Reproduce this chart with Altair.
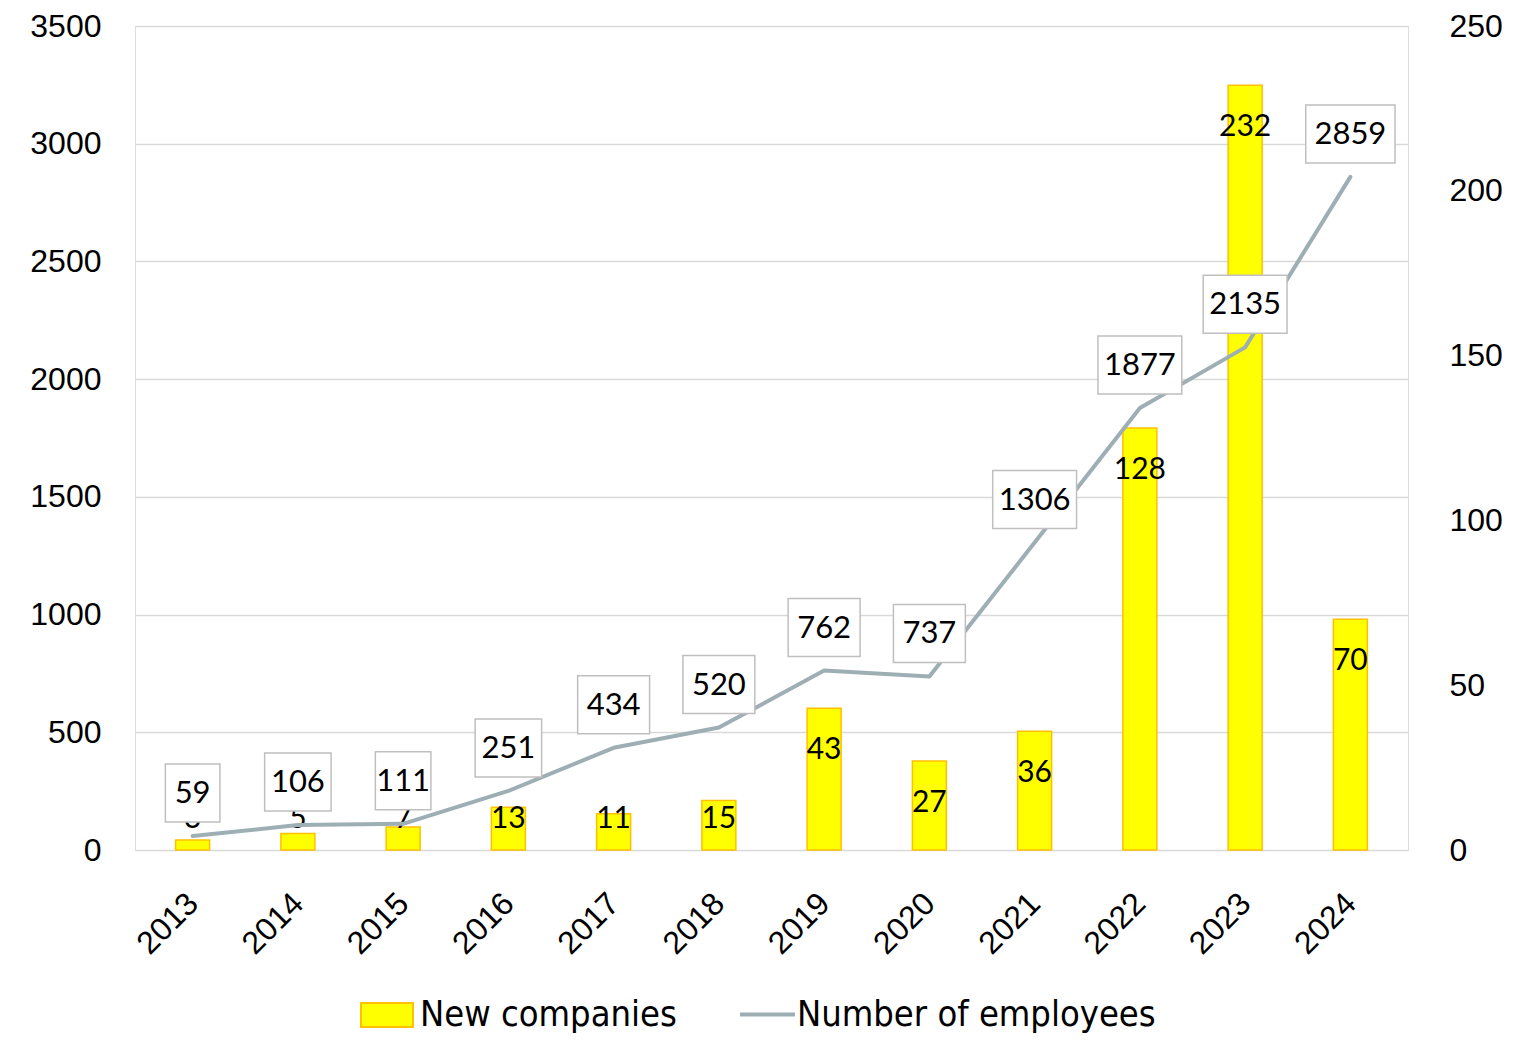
import altair as alt
import pandas as pd
import numpy as np

years = list(range(2013, 2025))
new_companies = [3, 5, 7, 13, 11, 15, 43, 27, 36, 128, 232, 70]
employees = [59, 106, 111, 251, 434, 520, 762, 737, 1306, 1877, 2135, 2859]

W, H = 1273, 824
FONT = "Lato"
px_per_year = W / 12
px_per_unit_r = H / 250


def box_px(s):
    return sum(12 if c == "1" else 17.5 for c in s) + 20


df = pd.DataFrame({"year": years, "new": new_companies, "emp": employees})
df["emp_txt"] = df["emp"].astype(str)
df["hw"] = df["emp_txt"].map(box_px) / 2 / px_per_year
df["bx1"] = df["year"] - df["hw"]
df["bx2"] = df["year"] + df["hw"]
df["blab"] = np.maximum(df["new"] - 42 / px_per_unit_r, 31 / px_per_unit_r)
df["s1"] = "New companies"
df["s2"] = "Number of employees"

xscale = alt.Scale(domain=[2012.5, 2024.5], nice=False, zero=False)
xaxis = alt.Axis(
    values=years, format="d", labelAngle=-45, grid=False, domain=False,
    ticks=False, labelPadding=48, labelFontSize=32, title=None,
    labelAlign="right", labelBaseline="middle",
)

yl_scale = alt.Scale(domain=[0, 3500], nice=False)
yr_scale = alt.Scale(domain=[0, 250], nice=False)
yl_axis = alt.Axis(
    orient="left", values=list(range(0, 3501, 500)), format="d", grid=True,
    gridColor="#d9d9d9", gridWidth=1.3, domain=False, ticks=False,
    labelPadding=34, labelFontSize=32, title=None,
)
yr_axis = alt.Axis(
    orient="right", values=list(range(0, 251, 50)), format="d", grid=False,
    domain=False, ticks=False, labelPadding=41, labelFontSize=32,
    title=None,
)


def X(field):
    return alt.X(field, scale=xscale, axis=xaxis)


base = alt.Chart(df)

bars = base.mark_bar(width=34, stroke="#FFC000", strokeWidth=1.5).encode(
    x=X("year:Q"),
    y=alt.Y("new:Q", scale=yr_scale, axis=yr_axis),
    fill=alt.Fill(
        "s1:N",
        scale=alt.Scale(domain=["New companies"], range=["#FFFF00"]),
        legend=alt.Legend(
            orient="none", legendX=225, legendY=962, title=None,
            symbolType="M-1,-0.46H1V0.46H-1Z", symbolSize=2704,
            symbolStrokeColor="#FFC000", symbolStrokeWidth=2,
            symbolFillColor="#FFFF00",
            labelFont="DejaVu Sans Condensed", labelFontSize=36,
            labelColor="black", labelOffset=6, labelLimit=0,
        ),
    ),
)

bar_labels = base.mark_text(
    fontSize=30, font=FONT, color="black", align="center", baseline="middle"
).encode(
    x=X("year:Q"),
    y=alt.Y("blab:Q", scale=yr_scale, axis=yr_axis),
    text=alt.Text("new:Q"),
)

line = base.mark_line(strokeWidth=4, strokeCap="round", strokeJoin="round").encode(
    x=X("year:Q"),
    y=alt.Y("emp:Q", scale=yl_scale, axis=yl_axis),
    stroke=alt.Stroke(
        "s2:N",
        scale=alt.Scale(domain=["Number of employees"], range=["#9DAFB5"]),
        legend=alt.Legend(
            orient="none", legendX=603, legendY=959, title=None,
            symbolType="stroke", symbolSize=3025, symbolStrokeWidth=4,
            labelFont="DejaVu Sans Condensed", labelFontSize=36,
            labelColor="black", labelOffset=0, labelLimit=0,
        ),
    ),
)

boxes = base.mark_rect(
    fill="white", stroke="#BFBFBF", strokeWidth=1.5, yOffset=-14, y2Offset=-72
).encode(
    x=X("bx1:Q"),
    x2="bx2:Q",
    y=alt.Y("emp:Q", scale=yl_scale, axis=yl_axis),
    y2="emp:Q",
)

emp_labels = base.mark_text(
    fontSize=31, font=FONT, color="black", align="center", baseline="middle",
    yOffset=-42,
).encode(
    x=X("year:Q"),
    y=alt.Y("emp:Q", scale=yl_scale, axis=yl_axis),
    text=alt.Text("emp_txt:N"),
)

right_layer = alt.layer(bars, bar_labels)
left_layer = alt.layer(line, boxes, emp_labels)

chart = (
    alt.layer(right_layer, left_layer)
    .resolve_scale(y="independent", fill="independent", stroke="independent")
    .properties(
        width=W, height=H,
        padding={"left": 21, "top": 2, "right": 0, "bottom": 0},
    )
    .configure_view(strokeWidth=0, stroke="transparent")
    .configure_axis(labelFont=FONT, labelColor="black")
    .configure(background="white")
)

chart.save("out.html", embed_options={"renderer": "svg", "actions": False})
